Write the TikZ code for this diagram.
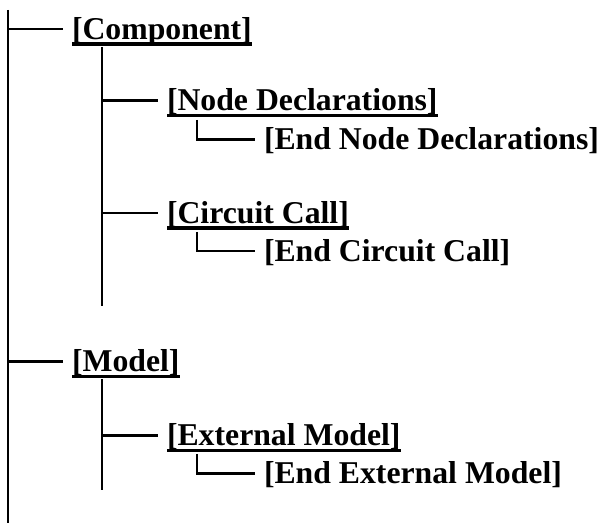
\documentclass[tikz,border=0pt]{standalone}
\usepackage{fontspec}
\setmainfont{Liberation Serif}
\tikzset{
  tag/.style={anchor=base west,inner sep=0pt,outer sep=0pt,text height=15.75pt,text depth=0pt,
    font=\fontsize{23.8}{28}\selectfont\bfseries},
  ul/.style={line width=2.5pt},
}
\newcommand{\ultag}[1]{\draw[ul] ([yshift=-3.4pt]#1.south west) -- ([yshift=-3.4pt]#1.south east);}
\begin{document}
\begin{tikzpicture}[x=0.75pt,y=-0.75pt,line width=2pt]
  \useasboundingbox (0,0) rectangle (600,523);
  % main trunk
  \coordinate (root) at (8,10);
  \coordinate (rootend) at (8,523);
  \draw (root) -- (rootend);

  % component block
  \node[tag] (comp) at (72,39.5) {[Component]};
  \ultag{comp}
  \draw (root |- comp.west) -- ([xshift=-6.75pt]comp.west);
  \coordinate (compstem) at (102,47);
  \coordinate (compend) at (102,306);
  \draw (compstem) -- (compend);

  \node[tag] (nodedecl) at (167,111) {[Node Declarations]};
  \ultag{nodedecl}
  \draw (compstem |- nodedecl.west) -- ([xshift=-6.75pt]nodedecl.west);
  \node[tag] (endnodedecl) at (264,150) {[End Node Declarations]};
  \coordinate (nodeelbow) at (197,120);
  \draw (nodeelbow) |- ([xshift=-6.75pt]endnodedecl.west);

  \node[tag] (circ) at (167,223.5) {[Circuit Call]};
  \ultag{circ}
  \draw (compstem |- circ.west) -- ([xshift=-6.75pt]circ.west);
  \node[tag] (endcirc) at (264,261.5) {[End Circuit Call]};
  \coordinate (circelbow) at (197,232);
  \draw (circelbow) |- ([xshift=-6.75pt]endcirc.west);

  % model block
  \node[tag] (model) at (72,372) {[Model]};
  \ultag{model}
  \draw (root |- model.west) -- ([xshift=-6.75pt]model.west);
  \coordinate (modelstem) at (102,379);
  \coordinate (modelend) at (102,490);
  \draw (modelstem) -- (modelend);

  \node[tag] (extmodel) at (167,446) {[External Model]};
  \ultag{extmodel}
  \draw (modelstem |- extmodel.west) -- ([xshift=-6.75pt]extmodel.west);
  \node[tag] (endextmodel) at (264,484) {[End External Model]};
  \coordinate (extelbow) at (197,454);
  \draw (extelbow) |- ([xshift=-6.75pt]endextmodel.west);
\end{tikzpicture}
\end{document}
